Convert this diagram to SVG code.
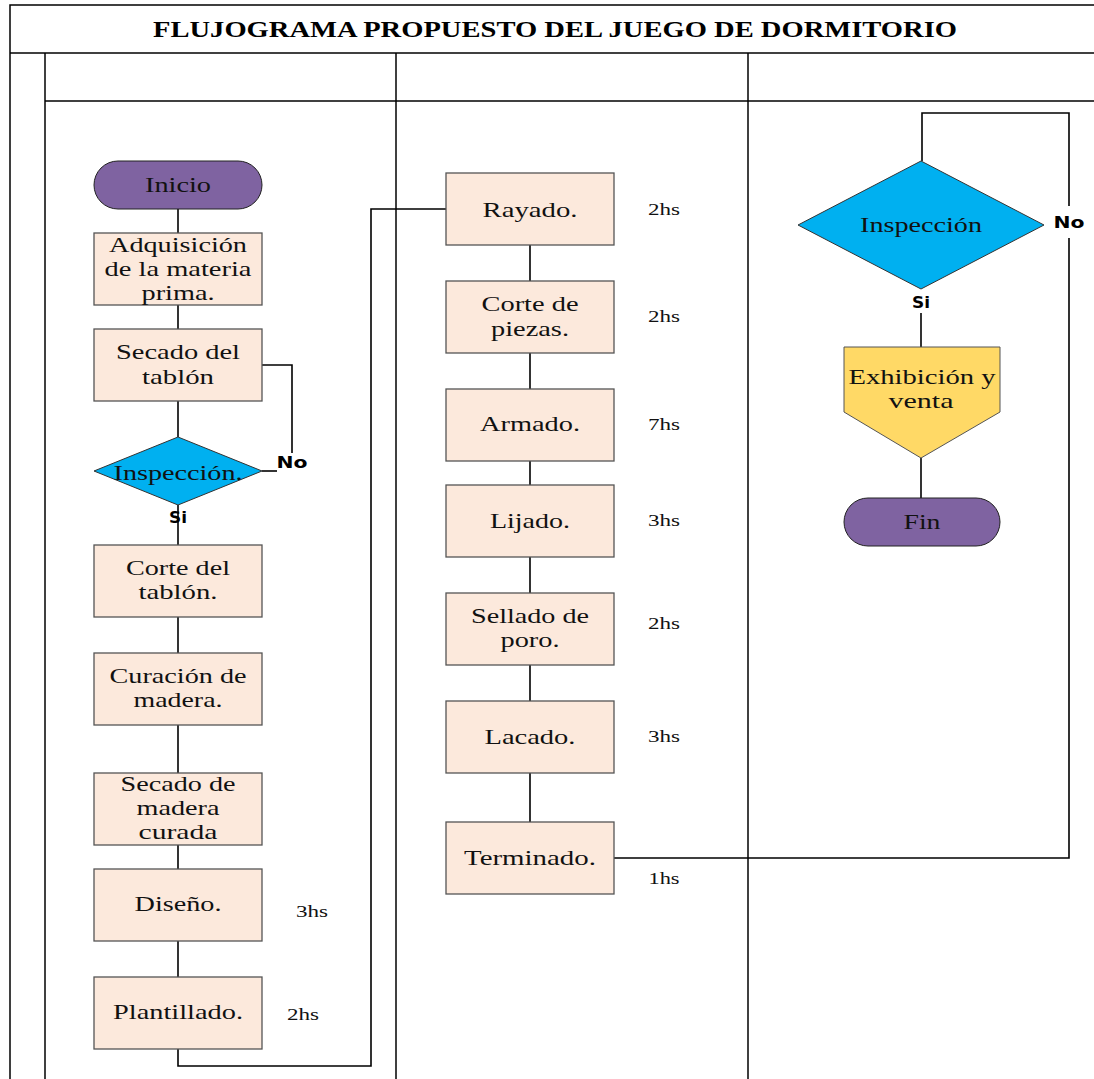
<svg xmlns="http://www.w3.org/2000/svg" width="1094" height="1079" viewBox="0 0 1094 1079">
  <style>
    .frame { fill: none; stroke: #000; stroke-width: 1.5; }
    .conn { fill: none; stroke: #000; stroke-width: 1.6; }
    .proc { fill: #fce9dc; stroke: #555; stroke-width: 1.3; }
    .term { fill: #7f63a1; stroke: #222; stroke-width: 1; }
    .dec { fill: #00b0f0; stroke: #333; stroke-width: 1; }
    .off { fill: #ffd966; stroke: #555; stroke-width: 1; }
    text { white-space: pre; }
    .t { font-family: "Liberation Serif", "Times New Roman", serif; font-size: 22px; fill: #111; text-anchor: middle; }
    .hs { font-family: "Liberation Serif", "Times New Roman", serif; font-size: 16px; fill: #111; text-anchor: middle; }
    .lbl { font-family: "DejaVu Sans", "Verdana", sans-serif; font-size: 15px; font-weight: bold; fill: #000; text-anchor: middle; }
    .title { font-family: "Liberation Serif", "Times New Roman", serif; font-size: 23px; font-weight: bold; fill: #000; }
  </style>

  <rect width="1094" height="1079" fill="#fff"/>

  <!-- table frame and swimlanes -->
  <g id="frame">
    <path class="frame" d="M10 1079 V5 H1094"/>
    <path class="frame" d="M10 53 H1094"/>
    <path class="frame" d="M45 101 H1094"/>
    <path class="frame" d="M45 53 V1079"/>
    <path class="frame" d="M396 53 V1079"/>
    <path class="frame" d="M748 53 V1079"/>
    <text class="title" x="153" y="37" textLength="804" lengthAdjust="spacingAndGlyphs">FLUJOGRAMA PROPUESTO DEL JUEGO DE DORMITORIO</text>
  </g>

  <!-- connectors -->
  <g id="connectors">
    <path class="conn" d="M178 209 V233"/>
    <path class="conn" d="M178 305 V329"/>
    <path class="conn" d="M178 401 V437"/>
    <path class="conn" d="M262 365 H292 V453"/>
    <path class="conn" d="M262 471 H277"/>
    <path class="conn" d="M178 505 V545"/>
    <path class="conn" d="M178 617 V653"/>
    <path class="conn" d="M178 725 V773"/>
    <path class="conn" d="M178 845 V869"/>
    <path class="conn" d="M178 941 V977"/>
    <path class="conn" d="M178 1049 V1066 H371 V209 H446"/>
    <path class="conn" d="M530 245 V281"/>
    <path class="conn" d="M530 353 V389"/>
    <path class="conn" d="M530 461 V485"/>
    <path class="conn" d="M530 557 V593"/>
    <path class="conn" d="M530 665 V701"/>
    <path class="conn" d="M530 773 V822"/>
    <path class="conn" d="M614 858 H1069 V238"/>
    <path class="conn" d="M1069 206 V113 H922 V161"/>
    <path class="conn" d="M921 313 V347"/>
    <path class="conn" d="M921 458 V498"/>
    <text class="lbl" x="292" y="468" textLength="31" lengthAdjust="spacingAndGlyphs">No</text>
    <text class="lbl" x="178" y="523" textLength="18" lengthAdjust="spacingAndGlyphs">Si</text>
    <text class="lbl" x="1069" y="228" textLength="31" lengthAdjust="spacingAndGlyphs">No</text>
    <text class="lbl" x="921" y="308" textLength="18" lengthAdjust="spacingAndGlyphs">Si</text>
  </g>

  <!-- lane 1 -->
  <g id="inicio">
    <rect class="term" x="94" y="161" width="168" height="48" rx="24"/>
    <text class="t" x="178" y="192" textLength="66" lengthAdjust="spacingAndGlyphs">Inicio</text>
  </g>
  <g id="adquisicion">
    <rect class="proc" x="94" y="233" width="168" height="72"/>
    <text class="t" x="178" y="252" textLength="138" lengthAdjust="spacingAndGlyphs">Adquisición</text>
    <text class="t" x="178" y="276" textLength="147" lengthAdjust="spacingAndGlyphs">de la materia</text>
    <text class="t" x="178" y="300" textLength="73" lengthAdjust="spacingAndGlyphs">prima.</text>
  </g>
  <g id="secado-tablon">
    <rect class="proc" x="94" y="329" width="168" height="72"/>
    <text class="t" x="178" y="359" textLength="124" lengthAdjust="spacingAndGlyphs">Secado del</text>
    <text class="t" x="178" y="384" textLength="72" lengthAdjust="spacingAndGlyphs">tablón</text>
  </g>
  <g id="inspeccion-1">
    <polygon class="dec" points="178,437 262,471 178,505 94,471"/>
    <text class="t" x="178" y="480" textLength="129" lengthAdjust="spacingAndGlyphs">Inspección.</text>
  </g>
  <g id="corte-tablon">
    <rect class="proc" x="94" y="545" width="168" height="72"/>
    <text class="t" x="178" y="575" textLength="104" lengthAdjust="spacingAndGlyphs">Corte del</text>
    <text class="t" x="178" y="599" textLength="79" lengthAdjust="spacingAndGlyphs">tablón.</text>
  </g>
  <g id="curacion">
    <rect class="proc" x="94" y="653" width="168" height="72"/>
    <text class="t" x="178" y="683" textLength="137" lengthAdjust="spacingAndGlyphs">Curación de</text>
    <text class="t" x="178" y="707" textLength="89" lengthAdjust="spacingAndGlyphs">madera.</text>
  </g>
  <g id="secado-madera">
    <rect class="proc" x="94" y="773" width="168" height="72"/>
    <text class="t" x="178" y="791" textLength="115" lengthAdjust="spacingAndGlyphs">Secado de</text>
    <text class="t" x="178" y="815" textLength="83" lengthAdjust="spacingAndGlyphs">madera</text>
    <text class="t" x="178" y="839" textLength="79" lengthAdjust="spacingAndGlyphs">curada</text>
  </g>
  <g id="diseno">
    <rect class="proc" x="94" y="869" width="168" height="72"/>
    <text class="t" x="178" y="911" textLength="87" lengthAdjust="spacingAndGlyphs">Diseño.</text>
    <text class="hs" x="312" y="917" textLength="32" lengthAdjust="spacingAndGlyphs">3hs</text>
  </g>
  <g id="plantillado">
    <rect class="proc" x="94" y="977" width="168" height="72"/>
    <text class="t" x="178" y="1019" textLength="130" lengthAdjust="spacingAndGlyphs">Plantillado.</text>
    <text class="hs" x="303" y="1020" textLength="32" lengthAdjust="spacingAndGlyphs">2hs</text>
  </g>

  <!-- lane 2 -->
  <g id="rayado">
    <rect class="proc" x="446" y="173" width="168" height="72"/>
    <text class="t" x="530" y="217" textLength="95" lengthAdjust="spacingAndGlyphs">Rayado.</text>
    <text class="hs" x="664" y="215" textLength="32" lengthAdjust="spacingAndGlyphs">2hs</text>
  </g>
  <g id="corte-piezas">
    <rect class="proc" x="446" y="281" width="168" height="72"/>
    <text class="t" x="530" y="311" textLength="97" lengthAdjust="spacingAndGlyphs">Corte de</text>
    <text class="t" x="530" y="336" textLength="78" lengthAdjust="spacingAndGlyphs">piezas.</text>
    <text class="hs" x="664" y="322" textLength="32" lengthAdjust="spacingAndGlyphs">2hs</text>
  </g>
  <g id="armado">
    <rect class="proc" x="446" y="389" width="168" height="72"/>
    <text class="t" x="530" y="431" textLength="100" lengthAdjust="spacingAndGlyphs">Armado.</text>
    <text class="hs" x="664" y="430" textLength="32" lengthAdjust="spacingAndGlyphs">7hs</text>
  </g>
  <g id="lijado">
    <rect class="proc" x="446" y="485" width="168" height="72"/>
    <text class="t" x="530" y="528" textLength="80" lengthAdjust="spacingAndGlyphs">Lijado.</text>
    <text class="hs" x="664" y="526" textLength="32" lengthAdjust="spacingAndGlyphs">3hs</text>
  </g>
  <g id="sellado">
    <rect class="proc" x="446" y="593" width="168" height="72"/>
    <text class="t" x="530" y="623" textLength="118" lengthAdjust="spacingAndGlyphs">Sellado de</text>
    <text class="t" x="530" y="647" textLength="59" lengthAdjust="spacingAndGlyphs">poro.</text>
    <text class="hs" x="664" y="629" textLength="32" lengthAdjust="spacingAndGlyphs">2hs</text>
  </g>
  <g id="lacado">
    <rect class="proc" x="446" y="701" width="168" height="72"/>
    <text class="t" x="530" y="744" textLength="91" lengthAdjust="spacingAndGlyphs">Lacado.</text>
    <text class="hs" x="664" y="742" textLength="32" lengthAdjust="spacingAndGlyphs">3hs</text>
  </g>
  <g id="terminado">
    <rect class="proc" x="446" y="822" width="168" height="72"/>
    <text class="t" x="530" y="865" textLength="132" lengthAdjust="spacingAndGlyphs">Terminado.</text>
    <text class="hs" x="664" y="884" textLength="31" lengthAdjust="spacingAndGlyphs">1hs</text>
  </g>

  <!-- lane 3 -->
  <g id="inspeccion-2">
    <polygon class="dec" points="921,161 1044,225 921,289 798,225"/>
    <text class="t" x="921" y="232" textLength="122" lengthAdjust="spacingAndGlyphs">Inspección</text>
  </g>
  <g id="exhibicion">
    <polygon class="off" points="844,347 1000,347 1000,412 921,458 844,412"/>
    <text class="t" x="922" y="384" textLength="147" lengthAdjust="spacingAndGlyphs">Exhibición y</text>
    <text class="t" x="921" y="408" textLength="65" lengthAdjust="spacingAndGlyphs">venta</text>
  </g>
  <g id="fin">
    <rect class="term" x="844" y="498" width="156" height="48" rx="24"/>
    <text class="t" x="922" y="529" textLength="37" lengthAdjust="spacingAndGlyphs">Fin</text>
  </g>
</svg>
